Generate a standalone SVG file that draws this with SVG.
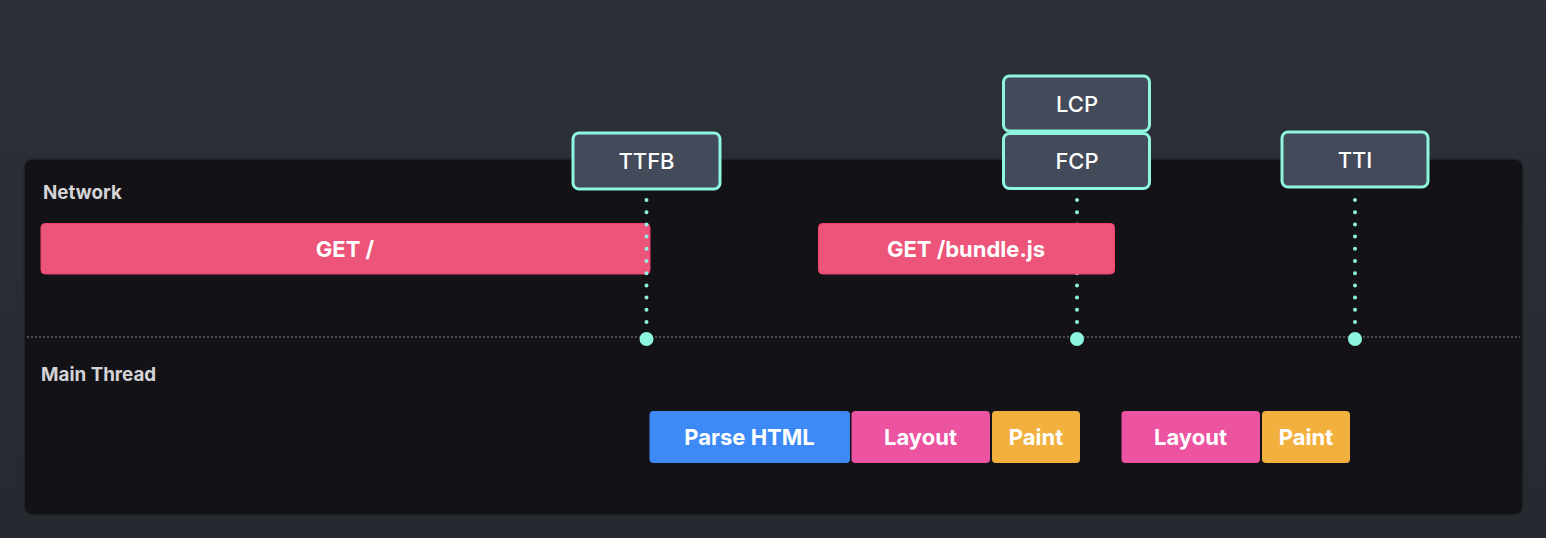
<svg xmlns="http://www.w3.org/2000/svg" width="1546" height="538" viewBox="0 0 1546 538">
<defs>
<linearGradient id="bg" x1="0" y1="0" x2="0" y2="1">
<stop offset="0" stop-color="#2c3038"/>
<stop offset="1" stop-color="#26292f"/>
</linearGradient>
</defs>
<style>
.lane{font-family:Inter,"Liberation Sans",sans-serif;font-weight:700;font-size:18.8px;fill:#d4d4d6}
.bar text,.task text{font-family:Inter,"Liberation Sans",sans-serif;font-weight:700;font-size:22px;fill:#ffffff;text-anchor:middle;dominant-baseline:central}
.net{fill:#ec5479;stroke:#f0406c;stroke-width:1}
.parse{fill:#3d8af7}
.layout{fill:#ec53a0}
.paint{fill:#f2b13f}
.metric rect{fill:#434a59;stroke:#8ef5e0;stroke-width:3}
.metric text{font-family:Inter,"Liberation Sans",sans-serif;font-weight:500;font-size:22px;fill:#ffffff;text-anchor:middle;dominant-baseline:central}
.drop{stroke:#8ef5e0;stroke-width:4;stroke-linecap:round;stroke-dasharray:0 12.2;fill:none}
.pin{fill:#8ef5e0}
</style>
<rect width="1546" height="538" fill="url(#bg)"/>
<g id="panel">
<rect x="24" y="159" width="1499" height="356" rx="8" fill="#131317" stroke="#26272c" stroke-width="1.5"/>
<line x1="27" y1="337" x2="1520" y2="337" stroke="#8a8a8e" stroke-width="1" stroke-dasharray="2 2"/>
<text class="lane" x="43" y="199">Network</text>
<text class="lane" x="41" y="381">Main Thread</text>
</g>
<g id="get-root" class="bar">
<rect class="net" x="41" y="223.5" width="609" height="50.5" rx="4"/>
<text x="345" y="249">GET /</text>
</g>
<g id="connectors">
<line class="drop" x1="646.5" y1="200" x2="646.5" y2="325"/>
<circle class="pin" cx="646.5" cy="339" r="7"/>
<line class="drop" x1="1077" y1="200" x2="1077" y2="325"/>
<circle class="pin" cx="1077" cy="339" r="7"/>
<line class="drop" x1="1355" y1="200" x2="1355" y2="325"/>
<circle class="pin" cx="1355" cy="339" r="7"/>
</g>
<g id="get-bundle" class="bar">
<rect class="net" x="818.5" y="223.5" width="296" height="50.5" rx="4"/>
<text x="966" y="249">GET /bundle.js</text>
</g>
<g id="ttfb" class="metric">
<rect x="573" y="133" width="147" height="56" rx="6"/>
<text x="646.5" y="161">TTFB</text>
</g>
<g id="lcp" class="metric">
<rect x="1003.5" y="76" width="146" height="55" rx="6"/>
<text x="1077" y="103.5">LCP</text>
</g>
<g id="fcp" class="metric">
<rect x="1003.5" y="133.5" width="146" height="55" rx="6"/>
<text x="1077" y="161">FCP</text>
</g>
<g id="tti" class="metric">
<rect x="1282" y="132" width="146" height="55" rx="6"/>
<text x="1355" y="160">TTI</text>
</g>
<g id="parse-html" class="task">
<rect class="parse" x="649.5" y="411" width="200.5" height="52" rx="4"/>
<text x="749.5" y="437">Parse HTML</text>
</g>
<g id="layout-1" class="task">
<rect class="layout" x="851.5" y="411" width="138.5" height="52" rx="4"/>
<text x="920.5" y="437">Layout</text>
</g>
<g id="paint-1" class="task">
<rect class="paint" x="992" y="411" width="88" height="52" rx="4"/>
<text x="1036" y="437">Paint</text>
</g>
<g id="layout-2" class="task">
<rect class="layout" x="1121.5" y="411" width="138.5" height="52" rx="4"/>
<text x="1190.5" y="437">Layout</text>
</g>
<g id="paint-2" class="task">
<rect class="paint" x="1262" y="411" width="88" height="52" rx="4"/>
<text x="1306" y="437">Paint</text>
</g>
</svg>
